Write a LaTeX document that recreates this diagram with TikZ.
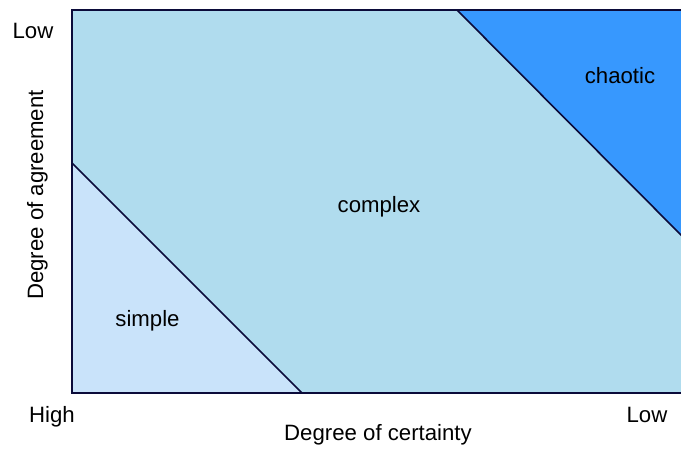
\documentclass[tikz,border=0pt]{standalone}
\usepackage{fontspec}
\setmainfont{Liberation Sans}
\definecolor{complexc}{HTML}{B0DCEE}
\definecolor{simplec}{HTML}{C9E3FA}
\definecolor{chaoticc}{HTML}{3798FE}
\definecolor{edgec}{HTML}{0B0B3A}
\begin{document}
\begin{tikzpicture}[x=1pt,y=-1pt,
  lbl/.style={font=\fontsize{22.2}{25}\selectfont, text=black, inner sep=0pt, anchor=base},
  border/.style={draw=edgec, line width=2pt},
  divider/.style={draw=edgec, line width=1.6pt}]
\useasboundingbox (0,0) rectangle (681,448);
% regions
\coordinate (tl) at (72,10);
\coordinate (tr) at (684,10);
\coordinate (br) at (684,393);
\coordinate (bl) at (72,393);
\coordinate (s1) at (72,163);
\coordinate (s2) at (302,393);
\coordinate (c1) at (457,10);
\coordinate (c2) at (684,238);
\fill[complexc] (tl) -- (tr) -- (br) -- (bl) -- cycle;
\fill[simplec] (s1) -- (s2) -- (bl) -- cycle;
\fill[chaoticc] (c1) -- (tr) -- (c2) -- cycle;
\draw[divider] (s1) -- (s2);
\draw[divider] (c1) -- (c2);
\draw[border] (tr) -- (tl) -- (bl) -- (br);
% labels
\node[lbl] (lowy) at (33,38) {Low};
\node[lbl] (highx) at (52,422) {High};
\node[lbl] (lowx) at (647,422) {Low};
\node[lbl] (xaxis) at (378,440) {Degree of certainty};
\node[lbl, rotate=90] (yaxis) at (43,195) {Degree of agreement};
\node[lbl] (complex) at (379,212) {complex};
\node[lbl] (simple) at (147.5,326) {simple};
\node[lbl] (chaotic) at (620,83) {chaotic};
\end{tikzpicture}
\end{document}
